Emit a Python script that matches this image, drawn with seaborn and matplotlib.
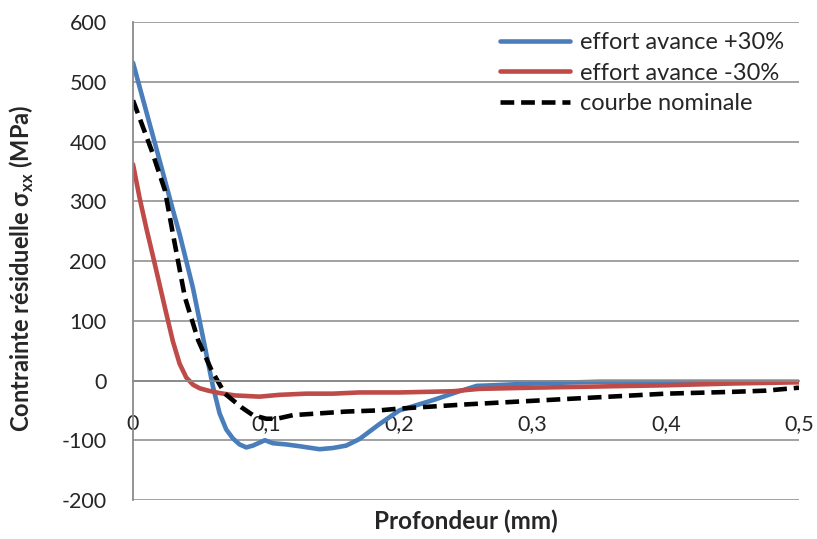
import numpy as np
import pandas as pd
import matplotlib
matplotlib.use("Agg")
import matplotlib.pyplot as plt
import seaborn as sns

# ---- data ----
x_plus = [0, 0.01, 0.02, 0.03, 0.035, 0.04, 0.045, 0.05, 0.055, 0.06, 0.065, 0.07, 0.075, 0.08, 0.085,
          0.09, 0.095, 0.099, 0.105, 0.115, 0.125, 0.14, 0.15, 0.16, 0.17, 0.185, 0.2, 0.225,
          0.245, 0.258, 0.27, 0.3, 0.35, 0.4, 0.45, 0.5]
y_plus = [532, 450, 368, 285, 245, 200, 155, 100, 45, -10, -55, -82, -97, -107, -112,
          -109, -104, -100, -105, -107, -110, -115, -113, -109, -98, -73, -50, -33,
          -18, -9, -8, -5, -2, -2, -2, -2]

x_minus = [0, 0.005, 0.01, 0.015, 0.02, 0.025, 0.03, 0.035, 0.04, 0.045, 0.05, 0.0565, 0.065,
           0.0766, 0.095, 0.11, 0.13, 0.15, 0.17, 0.2, 0.24, 0.26, 0.3, 0.35, 0.4, 0.45, 0.5]
y_minus = [362, 305, 255, 208, 160, 112, 65, 28, 5, -7, -13, -17, -21,
           -25, -27, -24, -22, -22, -20, -20, -18, -14, -12, -10, -8, -5, -3]

x_nom = [0, 0.014, 0.024, 0.03, 0.039, 0.049, 0.059, 0.069, 0.0815, 0.09, 0.1, 0.108,
         0.12, 0.14, 0.16, 0.185, 0.2, 0.25, 0.3, 0.35, 0.4, 0.45, 0.475, 0.5]
y_nom = [469, 385, 318, 245, 139, 67, 17, -22, -45, -58, -64, -64,
         -58, -55, -52, -50, -47, -40, -34, -28, -22, -19, -17, -12]

labels = ["effort avance +30%", "effort avance -30%", "courbe nominale"]
x_ticks = [0, 0.1, 0.2, 0.3, 0.4, 0.5]
x_tick_labels = ["0", "0,1", "0,2", "0,3", "0,4", "0,5"]
y_ticks = [-200, -100, 0, 100, 200, 300, 400, 500, 600]

df = pd.concat([
    pd.DataFrame({"x": x_plus, "y": y_plus, "serie": labels[0]}),
    pd.DataFrame({"x": x_minus, "y": y_minus, "serie": labels[1]}),
    pd.DataFrame({"x": x_nom, "y": y_nom, "serie": labels[2]}),
], ignore_index=True)

sns.set_style("white")
plt.rcParams["font.family"] = ["Lato", "DejaVu Sans"]
plt.rcParams["mathtext.fontset"] = "custom"
plt.rcParams["mathtext.bf"] = "Lato:bold"
plt.rcParams["mathtext.rm"] = "Lato"

fig = plt.figure(figsize=(8.17, 5.39), dpi=100)
ax = fig.add_axes([0.1628, 0.0724, 0.8152, 0.8866])

palette = {labels[0]: "#4a7ebb", labels[1]: "#be4b48", labels[2]: "black"}
dashes = {labels[0]: "", labels[1]: "", labels[2]: (3.0, 1.5)}
sns.lineplot(data=df, x="x", y="y", hue="serie", style="serie", palette=palette,
             dashes=dashes, linewidth=3.3, ax=ax, sort=False, estimator=None)

for s in ["top", "right"]:
    ax.spines[s].set_visible(False)
ax.spines["bottom"].set_position(("data", 0))
ax.spines["left"].set_color("#8a8a8a")
ax.spines["left"].set_linewidth(1.3)
ax.spines["bottom"].set_color("#8a8a8a")
ax.spines["bottom"].set_linewidth(1.3)

ax.set_xlim(0, 0.5)
ax.set_ylim(-200, 600)
ax.set_yticks(y_ticks)
ax.set_yticklabels([str(v) for v in y_ticks], fontsize=15.5)
ax.set_xticks(x_ticks)
ax.set_xticklabels(x_tick_labels, fontsize=15.5)
ax.tick_params(axis="both", length=0)
ax.tick_params(axis="y", pad=19)
ax.tick_params(axis="x", pad=24)

ax.yaxis.grid(True, color="#9a9a9a", linewidth=1.3)
ax.xaxis.grid(False)
ax.set_axisbelow(True)

ax.set_xlabel("Profondeur (mm)", fontsize=17.5, fontweight="bold")
ax.xaxis.set_label_coords(0.5, -0.02)
ax.set_ylabel(r"Contrainte résiduelle σ$_{\mathbf{xx}}$ (MPa)", fontsize=17, fontweight="bold")
ax.yaxis.set_label_coords(-0.145, 0.485)

leg = ax.legend(loc="upper left", bbox_to_anchor=(0.551, 0.979), frameon=False, fontsize=17,
                handlelength=2.97, handletextpad=0.42, labelspacing=0.4,
                borderpad=0, borderaxespad=0)

fig.savefig("out.png", dpi=100)
